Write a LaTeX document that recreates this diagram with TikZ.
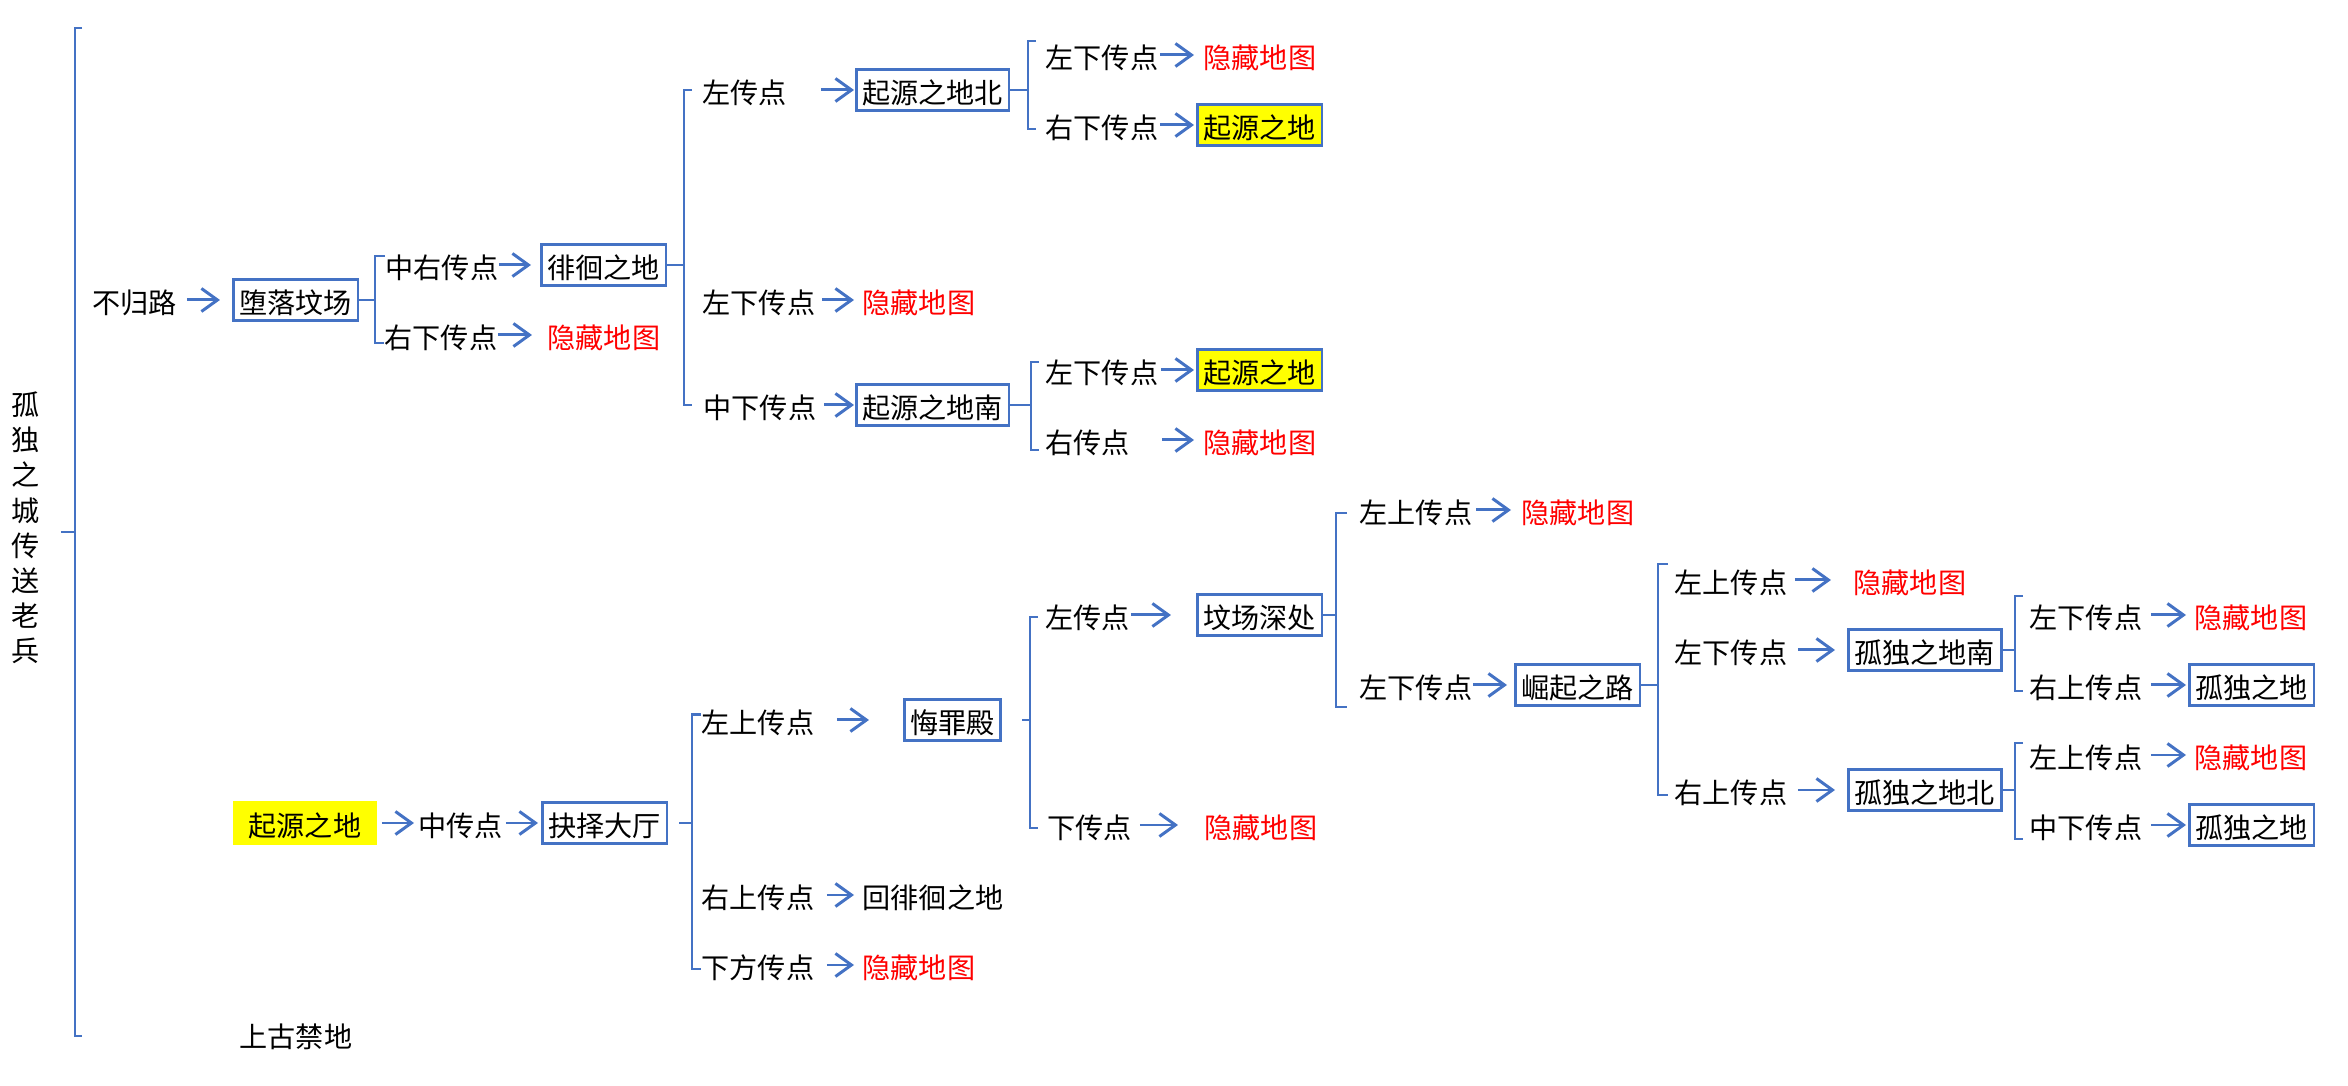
\documentclass[tikz,border=0pt]{standalone}
\usepackage{fontspec}
\setmainfont{Noto Sans CJK SC}
\usetikzlibrary{arrows.meta}
\definecolor{lineblue}{RGB}{68,114,196}
\definecolor{mapred}{RGB}{255,0,0}
\definecolor{hlyellow}{RGB}{255,255,0}

\begin{document}
\begin{tikzpicture}[x=0.01cm,y=-0.01cm,
        font=\fontsize{8}{10}\selectfont,
        txt/.style={anchor=west,inner sep=0pt,text height=0.88em,text depth=0.12em},
        redtxt/.style={txt,text=mapred},
        bluebox/.style={txt,draw=lineblue,line width=0.8pt,inner xsep=0.06cm,inner ysep=0.03cm},
        yelbox/.style={bluebox,fill=hlyellow},
        arr/.style={draw=lineblue,line width=0.85pt,-{Straight Barb[length=1.6mm,width=2.3mm]}},
        brk/.style={draw=lineblue,line width=0.75pt}]

    \useasboundingbox (0,0) rectangle (2348,1086);

    \node[align=center,inner sep=0pt] (root) at (26,528) {孤\\独\\之\\城\\传\\送\\老\\兵};
    \coordinate (rt) at (75,28);
    \coordinate (rb) at (75,1036);
    \coordinate (bA) at (75,532);
    \draw[brk] ([xshift=0.07cm]rt) -- (rt) -- (rb) -- ([xshift=0.07cm]rb);
    \draw[brk,shorten <=0.2cm] (root.east |- bA) -- (bA);

    \node[txt]      (bgl)   at (92,300)   {不归路};
    \node[bluebox]  (dlfc)  at (232,300)  {堕落坟场};
    \node[txt]      (zyc1)  at (385,265)  {中右传点};
    \node[txt]      (yxc1)  at (384,335)  {右下传点};
    \node[bluebox]  (phzd)  at (540,265)  {徘徊之地};
    \node[redtxt]   (map1)  at (547,335)  {隐藏地图};
    \node[txt]      (zc1)   at (702,90)   {左传点};
    \node[txt]      (zxc1)  at (702,300)  {左下传点};
    \node[txt]      (zhxc1) at (703,405)  {中下传点};
    \node[bluebox]  (qyb)   at (855,90)   {起源之地北};
    \node[redtxt]   (map2)  at (862,300)  {隐藏地图};
    \node[bluebox]  (qyn)   at (855,405)  {起源之地南};
    \node[txt]      (zxc2)  at (1045,55)  {左下传点};
    \node[txt]      (yxc2)  at (1045,125) {右下传点};
    \node[redtxt]   (map3)  at (1203,55)  {隐藏地图};
    \node[yelbox]   (qy1)   at (1196,125) {起源之地};
    \node[txt]      (zxc3)  at (1045,370) {左下传点};
    \node[txt]      (yc1)   at (1045,440) {右传点};
    \node[yelbox]   (qy2)   at (1196,370) {起源之地};
    \node[redtxt]   (map4)  at (1203,440) {隐藏地图};

    \node[txt,fill=hlyellow,inner xsep=0.16cm,inner ysep=0.04cm] (qy0) at (232,823) {起源之地};
    \node[txt]      (zhc1)  at (418,823)  {中传点};
    \node[bluebox]  (jzdt)  at (541,823)  {抉择大厅};
    \node[txt]      (sgjd)  at (239,1034) {上古禁地};
    \node[txt]      (zsc1)  at (701,720)  {左上传点};
    \node[txt]      (ysc1)  at (701,895)  {右上传点};
    \node[txt]      (xfc)   at (701,965)  {下方传点};
    \node[bluebox]  (hzd)   at (903,720)  {悔罪殿};
    \node[txt]      (hphzd) at (862,895)  {回徘徊之地};
    \node[redtxt]   (map5)  at (862,965)  {隐藏地图};
    \node[txt]      (zc2)   at (1045,615) {左传点};
    \node[txt]      (xc)    at (1047,825) {下传点};
    \node[bluebox]  (fcsc)  at (1196,615) {坟场深处};
    \node[redtxt]   (map6)  at (1204,825) {隐藏地图};
    \node[txt]      (zsc2)  at (1359,510) {左上传点};
    \node[txt]      (zxc4)  at (1359,685) {左下传点};
    \node[redtxt]   (map7)  at (1521,510) {隐藏地图};
    \node[bluebox]  (jqzl)  at (1514,685) {崛起之路};
    \node[txt]      (zsc3)  at (1674,580) {左上传点};
    \node[txt]      (zxc5)  at (1674,650) {左下传点};
    \node[txt]      (ysc2)  at (1674,790) {右上传点};
    \node[redtxt]   (map8)  at (1853,580) {隐藏地图};
    \node[bluebox]  (gdn)   at (1847,650) {孤独之地南};
    \node[bluebox]  (gdb)   at (1847,790) {孤独之地北};
    \node[txt]      (zxc6)  at (2029,615) {左下传点};
    \node[txt]      (ysc3)  at (2029,685) {右上传点};
    \node[txt]      (zsc4)  at (2029,755) {左上传点};
    \node[txt]      (zhxc2) at (2029,825) {中下传点};
    \node[redtxt]   (map9)  at (2194,615) {隐藏地图};
    \node[bluebox]  (gd1)   at (2188,685) {孤独之地};
    \node[redtxt]   (map10) at (2194,755) {隐藏地图};
    \node[bluebox]  (gd2)   at (2188,825) {孤独之地};

    \draw[arr,shorten <=0.09cm,shorten >=0.12cm] (bgl) -- (dlfc);
    \draw[arr,shorten >=0.09cm] (zyc1) -- (phzd);
    \draw[arr,shorten >=0.15cm] (yxc1) -- (map1);
    \draw[arr,shorten <=0.33cm,shorten >=0.01cm] (zc1) -- (qyb);
    \draw[arr,shorten <=0.06cm,shorten >=0.08cm] (zxc1) -- (map2);
    \draw[arr,shorten <=0.07cm,shorten >=0.01cm] (zhxc1) -- (qyn);
    \draw[arr,shorten <=0.01cm,shorten >=0.09cm] (zxc2) -- (map3);
    \draw[arr,shorten <=0.01cm,shorten >=0.02cm] (yxc2) -- (qy1);
    \draw[arr,shorten <=0.02cm,shorten >=0.02cm] (zxc3) -- (qy2);
    \draw[arr,shorten <=0.31cm,shorten >=0.09cm] (yc1) -- (map4);
    \draw[arr,shorten <=0.04cm,shorten >=0.04cm] (qy0) -- (zhc1);
    \draw[arr,shorten <=0.02cm,shorten >=0.03cm] (zhc1) -- (jzdt);
    \draw[arr,shorten <=0.22cm,shorten >=0.34cm] (zsc1) -- (hzd);
    \draw[arr,shorten >=0.25cm] (zc2) -- (fcsc);
    \draw[arr,shorten <=0.07cm,shorten >=0.26cm] (xc) -- (map6);
    \draw[arr,shorten <=0.12cm,shorten >=0.08cm] (ysc1) -- (hphzd);
    \draw[arr,shorten <=0.12cm,shorten >=0.08cm] (xfc) -- (map5);
    \draw[arr,shorten <=0.03cm,shorten >=0.1cm] (zsc2) -- (map7);
    \draw[arr,shorten >=0.07cm] (zxc4) -- (jqzl);
    \draw[arr,shorten <=0.07cm,shorten >=0.22cm] (zsc3) -- (map8);
    \draw[arr,shorten <=0.1cm,shorten >=0.12cm] (zxc5) -- (gdn);
    \draw[arr,shorten <=0.1cm,shorten >=0.12cm] (ysc2) -- (gdb);
    \draw[arr,shorten <=0.08cm,shorten >=0.08cm] (zxc6) -- (map9);
    \draw[arr,shorten <=0.08cm,shorten >=0.02cm] (ysc3) -- (gd1);
    \draw[arr,shorten <=0.08cm,shorten >=0.08cm] (zsc4) -- (map10);
    \draw[arr,shorten <=0.08cm,shorten >=0.02cm] (zhxc2) -- (gd2);

    \coordinate (bB) at (375,300);
    \coordinate (bC) at (684,265);
    \coordinate (bD) at (1028,90);
    \coordinate (bE) at (1031,405);
    \coordinate (bF) at (692,823);
    \coordinate (bG) at (1030,720);
    \coordinate (bH) at (1336,615);
    \coordinate (bI) at (1658,685);
    \coordinate (bJ) at (2015,650);
    \coordinate (bK) at (2015,790);

    \draw[brk] (dlfc) -- (bB);
    \draw[brk] ([yshift=0.09cm]zyc1.west) -| (bB) |- ([yshift=-0.08cm]yxc1.west);
    \draw[brk] (phzd) -- (bC);
    \draw[brk,shorten <=0.1cm,shorten >=0.11cm] (zc1.west) -| (bC) |- (zhxc1.west);
    \draw[brk] (qyb) -- (bD);
    \draw[brk,shorten <=0.09cm,shorten >=0.09cm] ([yshift=0.14cm]zxc2.west) -| (bD) |- ([yshift=-0.04cm]yxc2.west);
    \draw[brk] (qyn) -- (bE);
    \draw[brk,shorten <=0.06cm,shorten >=0.06cm] ([yshift=0.08cm]zxc3.west) -| (bE) |- ([yshift=-0.1cm]yc1.west);
    \draw[brk,shorten <=0.11cm] (jzdt) -- (bF);
    \draw[brk] ([yshift=0.055cm]zsc1.west) -| (bF) |- ([yshift=-0.04cm]xfc.west);
    \draw[brk,shorten <=0.2cm] (hzd) -- (bG);
    \draw[brk,shorten <=0.07cm,shorten >=0.09cm] ([yshift=-0.02cm]zc2.west) -| (bG) |- ([yshift=-0.03cm]xc.west);
    \draw[brk] (fcsc) -- (bH);
    \draw[brk,shorten <=0.12cm,shorten >=0.12cm] ([yshift=-0.03cm]zsc2.west) -| (bH) |- ([yshift=-0.22cm]zxc4.west);
    \draw[brk] (jqzl) -- (bI);
    \draw[brk,shorten <=0.06cm,shorten >=0.06cm] ([yshift=0.16cm]zsc3.west) -| (bI) |- ([yshift=-0.05cm]ysc2.west);
    \draw[brk] (gdn) -- (bJ);
    \draw[brk,shorten <=0.06cm,shorten >=0.06cm] ([yshift=0.19cm]zxc6.west) -| (bJ) |- ([yshift=-0.06cm]ysc3.west);
    \draw[brk] (gdb) -- (bK);
    \draw[brk,shorten <=0.06cm,shorten >=0.06cm] ([yshift=0.12cm]zsc4.west) -| (bK) |- ([yshift=-0.14cm]zhxc2.west);
\end{tikzpicture}
\end{document}
